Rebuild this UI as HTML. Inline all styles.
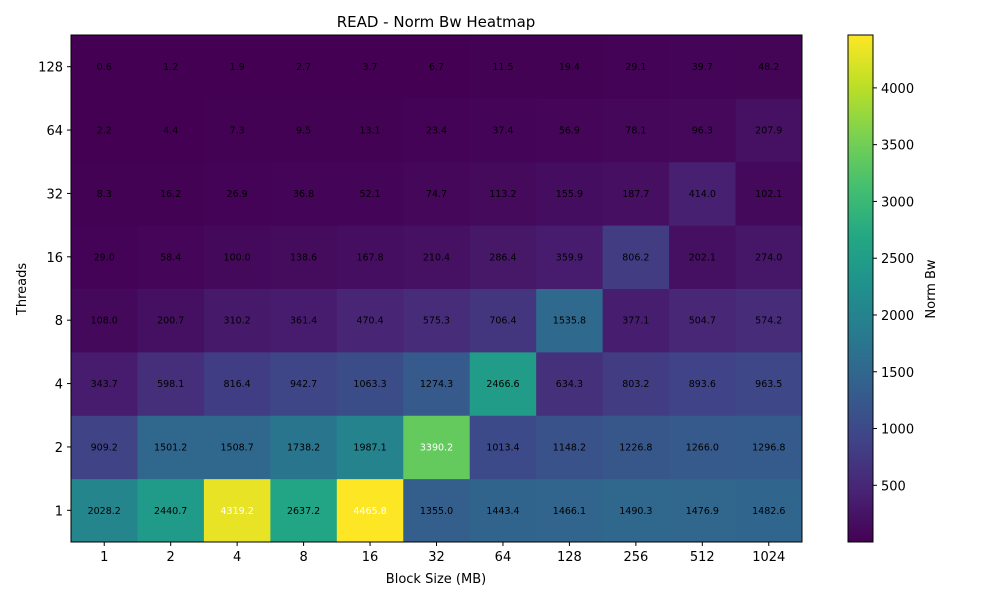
<!DOCTYPE html>
<html><head><meta charset="utf-8"><style>body{margin:0;background:#fff}svg{display:block;font-family:"DejaVu Sans","Liberation Sans",sans-serif}</style></head>
<body>
<svg id="c" width="1000" height="600" xmlns="http://www.w3.org/2000/svg">
<defs><linearGradient id="vg" x1="0" y1="1" x2="0" y2="0"></linearGradient></defs>
<text x="436" y="27" text-anchor="middle" font-size="15">READ - Norm Bw Heatmap</text>
<g id="cells"></g>
<rect x="71" y="35" width="731" height="507" fill="none" stroke="#000" stroke-width="1"/>
<g id="axes"></g>
<text x="436" y="583" text-anchor="middle" font-size="13">Block Size (MB)</text>
<text transform="translate(26,289) rotate(-90)" text-anchor="middle" font-size="13">Threads</text>
<rect x="848" y="35" width="25" height="507" fill="url(#vg)" stroke="#000" stroke-width="1"/>
<g id="cbticks"></g>
<text transform="translate(935,289) rotate(-90)" text-anchor="middle" font-size="13">Norm Bw</text>
</svg>
<script>
const blockSizes = ["1","2","4","8","16","32","64","128","256","512","1024"];
const threads = ["1","2","4","8","16","32","64","128"];
const row1 = [2028.2,2440.7,4319.2,2637.2,4465.8,1355.0,1443.4,1466.1,1490.3,1476.9,1482.6];
const row2 = [909.2,1501.2,1508.7,1738.2,1987.1,3390.2,1013.4,1148.2,1226.8,1266.0,1296.8];
const row4 = [343.7,598.1,816.4,942.7,1063.3,1274.3,2466.6,634.3,803.2,893.6,963.5];
const row8 = [108.0,200.7,310.2,361.4,470.4,575.3,706.4,1535.8,377.1,504.7,574.2];
const row16 = [29.0,58.4,100.0,138.6,167.8,210.4,286.4,359.9,806.2,202.1,274.0];
const row32 = [8.3,16.2,26.9,36.8,52.1,74.7,113.2,155.9,187.7,414.0,102.1];
const row64 = [2.2,4.4,7.3,9.5,13.1,23.4,37.4,56.9,78.1,96.3,207.9];
const row128 = [0.6,1.2,1.9,2.7,3.7,6.7,11.5,19.4,29.1,39.7,48.2];
const rows = [row1,row2,row4,row8,row16,row32,row64,row128];
const cbTicks = [500,1000,1500,2000,2500,3000,3500,4000];

const NS="http://www.w3.org/2000/svg";
const all=rows.flat(); const vmin=Math.min(...all), vmax=Math.max(...all);
const X0=71,X1=802,Y0=35,Y1=542;
const cw=(X1-X0)/blockSizes.length, ch=(Y1-Y0)/threads.length;
const xPos=i=>X0+i*cw, yPos=j=>Y1-(j+1)*ch;
const vir=["#440154","#482374","#404387","#345e8d","#29788e","#20908d","#22a784","#44bf70","#7ad151","#bddf26","#fde725"].map(h=>[1,3,5].map(k=>parseInt(h.substr(k,2),16)));
function color(v){let t=(v-vmin)/(vmax-vmin);t=Math.max(0,Math.min(1,t));const p=t*10,i=Math.min(9,Math.floor(p)),f=p-i;const c=vir[i].map((a,k)=>Math.round(a+(vir[i+1][k]-a)*f));return `rgb(${c})`;}
function mk(tag,attrs,parent,txt){const e=document.createElementNS(NS,tag);for(const k in attrs)e.setAttribute(k,attrs[k]);if(txt!==undefined)e.textContent=txt;parent.appendChild(e);return e;}
const g=document.getElementById('cells');
rows.forEach((r,j)=>r.forEach((v,i)=>{
 const rc=mk('rect',{x:xPos(i),y:yPos(j),width:cw+0.5,height:ch+0.5,fill:color(v)},g);
 
 
 const t=mk('text',{x:xPos(i)+cw/2,y:yPos(j)+ch/2+3.5,'text-anchor':'middle','font-size':'9.5',fill:(v-vmin)/(vmax-vmin)>0.65?'#fff':'#000'},g,v.toFixed(1));
 
 
}));
const ax=document.getElementById('axes');
blockSizes.forEach((b,i)=>{const x=xPos(i)+cw/2;
 const l=mk('line',{x1:x,x2:x,y1:Y1,y2:Y1+4,stroke:'#000'},ax);
 
 
 const t=mk('text',{x:x,y:Y1+19,'text-anchor':'middle','font-size':'13'},ax,b);
 
 });
threads.forEach((th,j)=>{const y=yPos(j)+ch/2;
 const l=mk('line',{x1:X0-4,x2:X0,y1:y,y2:y,stroke:'#000'},ax);
 
 
 const t=mk('text',{x:X0-8,y:y+5,'text-anchor':'end','font-size':'13'},ax,th);
 
 });
const gr=document.getElementById('vg');
for(let k=0;k<=10;k++){mk('stop',{offset:k/10,'stop-color':`rgb(${vir[k]})`},gr);}
const cb=document.getElementById('cbticks');
cbTicks.forEach(v=>{const y=Y1-(v-vmin)/(vmax-vmin)*(Y1-Y0);
 const l=mk('line',{x1:873,x2:877,y1:y,y2:y,stroke:'#000'},cb);
 
 
 const t=mk('text',{x:881,y:y+5,'font-size':'13'},cb,String(v));
 
 });
</script>
</body></html>
